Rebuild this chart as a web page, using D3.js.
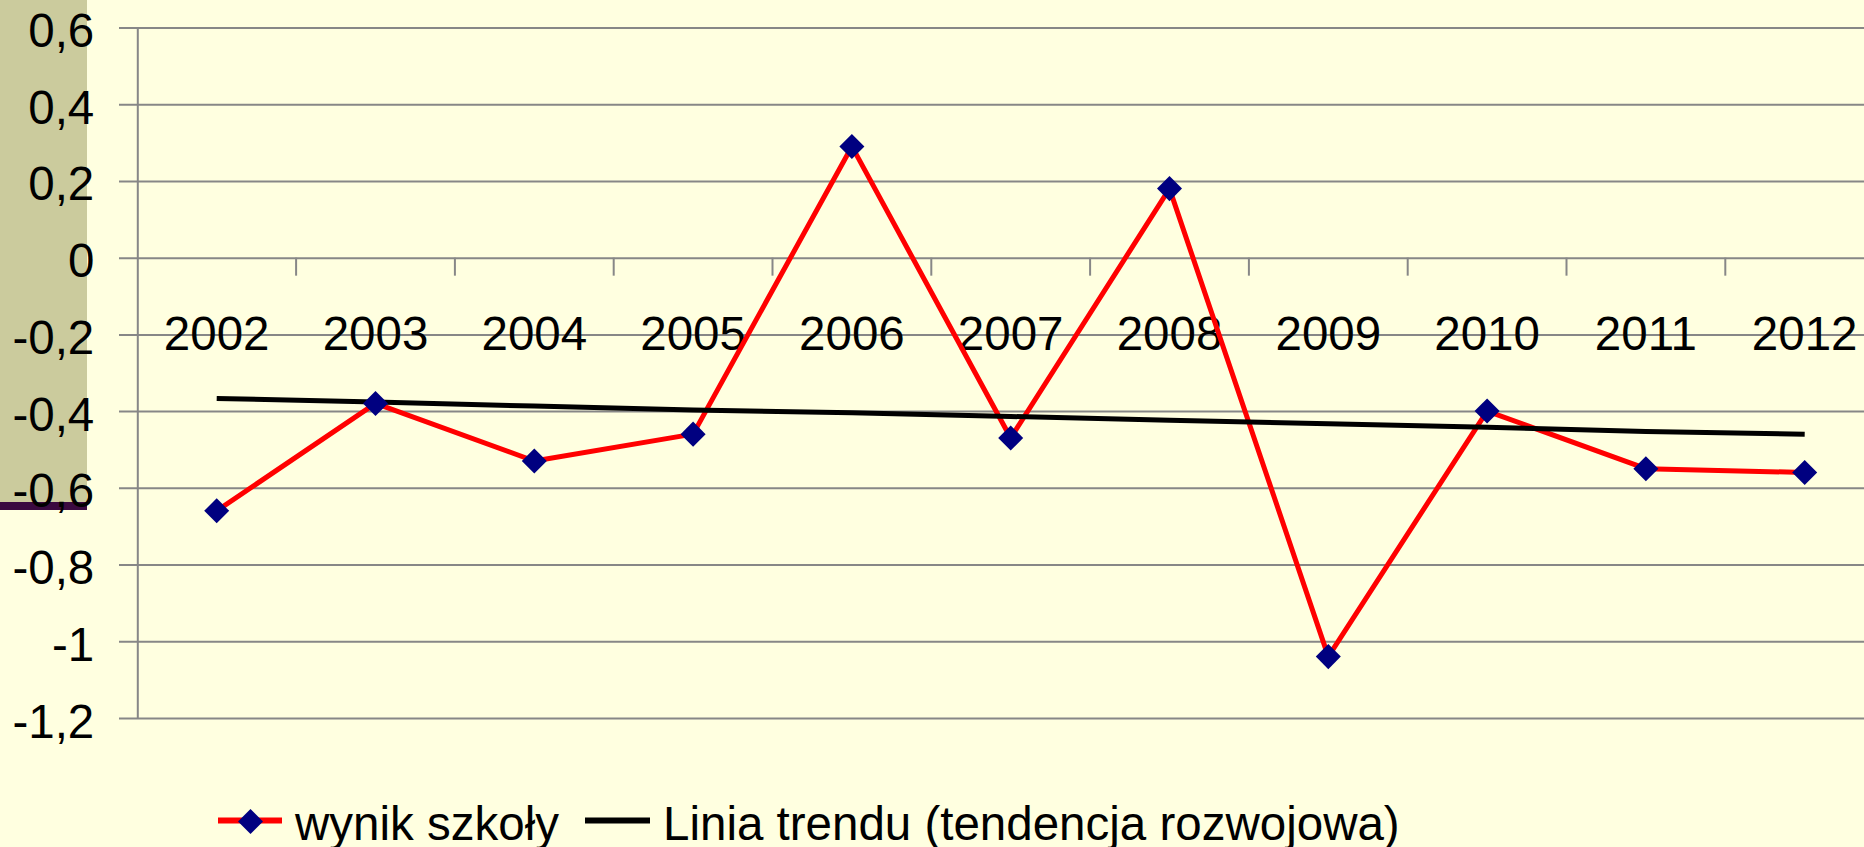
<!DOCTYPE html>
<html>
<head>
<meta charset="utf-8">
<script src="https://cdn.jsdelivr.net/npm/d3@7"></script>
<style>
    html, body { margin: 0; padding: 0; background: #ffffe0; overflow: hidden; }
    svg { display: block; font-family: 'Liberation Sans', Arial, sans-serif; }
</style>
</head>
<body>
<svg width="1864" height="847"></svg>
<script>
// data
var years = ['2002', '2003', '2004', '2005', '2006', '2007', '2008', '2009', '2010', '2011', '2012']
var wynik = [-0.66, -0.38, -0.53, -0.46, 0.29, -0.47, 0.18, -1.04, -0.40, -0.55, -0.56]
var trend = [-0.367, -0.376, -0.387, -0.397, -0.404, -0.414, -0.424, -0.433, -0.442, -0.453, -0.46]
var yTicks = [-1.2, -1, -0.8, -0.6, -0.4, -0.2, 0, 0.2, 0.4, 0.6]
var legendNames = ['wynik szkoły', 'Linia trendu (tendencja rozwojowa)']

var svg = d3.select('svg'),
    width = +svg.attr('width'),
    height = +svg.attr('height')

var fontSize = 47.5

var plotLeft = 137.3,
    plotRight = 137.3 + 11 * 158.8,   // plot runs past the right edge, like the original
    plotTop = 27.5,
    plotBottom = 718

svg.append('rect')
    .attr('width', width)
    .attr('height', height)
    .attr('fill', '#ffffe0')

// olive strip on the left with the dark bar under it
svg.append('rect')
    .attr('x', 0).attr('y', 0)
    .attr('width', 87).attr('height', 502)
    .attr('fill', '#cbcb9d')
svg.append('rect')
    .attr('x', 0).attr('y', 502)
    .attr('width', 87).attr('height', 8)
    .attr('fill', '#3a0a40')

var x = d3.scaleBand().domain(years).range([plotLeft, plotRight])
var y = d3.scaleLinear().domain([-1.2, 0.6]).range([plotBottom, plotTop])

// gridlines
svg.append('g')
    .attr('transform', 'translate(119,0)')
    .call(d3.axisLeft(y).tickValues(yTicks).tickSize(-(plotRight - 119)).tickFormat(''))
    .call(g => g.select('.domain').remove())
    .selectAll('line')
    .attr('stroke', '#878787')
    .attr('stroke-width', 2)

// y labels
var yAxis = svg.append('g')
    .attr('transform', 'translate(' + plotLeft + ',0)')
    .call(d3.axisLeft(y).tickValues(yTicks).tickSize(0).tickPadding(43)
        .tickFormat(d => String(d).replace('.', ',')))
yAxis.select('.domain')
    .attr('stroke', '#878787')
    .attr('stroke-width', 2)
yAxis.selectAll('text')
    .attr('dy', '0.4em')
    .attr('font-size', fontSize)
    .attr('font-family', null)
    .attr('fill', '#000')

// x axis crosses at 0
var xAxis = svg.append('g')
    .attr('transform', 'translate(0,' + y(0) + ')')
    .call(d3.axisBottom(x).tickSize(0).tickPadding(58.5))
xAxis.select('.domain').remove()
xAxis.selectAll('text')
    .attr('font-size', fontSize)
    .attr('font-family', null)
    .attr('fill', '#000')

svg.append('g')
    .selectAll('line')
    .data(years.slice(1))
    .enter().append('line')
    .attr('x1', d => x(d)).attr('x2', d => x(d))
    .attr('y1', y(0)).attr('y2', y(0) + 18)
    .attr('stroke', '#878787')
    .attr('stroke-width', 2)

var cx = (d, i) => x(years[i]) + x.bandwidth() / 2

var line = d3.line()
    .x(cx)
    .y(d => y(d))

svg.append('path')
    .datum(wynik)
    .attr('d', line)
    .attr('fill', 'none')
    .attr('stroke', '#ff0000')
    .attr('stroke-width', 5)
    .attr('stroke-linejoin', 'round')

svg.append('path')
    .datum(trend)
    .attr('d', line)
    .attr('fill', 'none')
    .attr('stroke', '#000')
    .attr('stroke-width', 5)

var diamond = d3.symbol().type(d3.symbolSquare).size(313)

svg.append('g')
    .selectAll('path')
    .data(wynik)
    .enter().append('path')
    .attr('d', diamond)
    .attr('transform', (d, i) => 'translate(' + cx(d, i) + ',' + y(d) + ') rotate(45)')
    .attr('fill', '#000080')

// legend
var legend = svg.append('g')
legend.append('line')
    .attr('x1', 218).attr('x2', 282)
    .attr('y1', 820.5).attr('y2', 820.5)
    .attr('stroke', '#ff0000')
    .attr('stroke-width', 6)
legend.append('path')
    .attr('d', diamond)
    .attr('transform', 'translate(250.5,821.5) rotate(45)')
    .attr('fill', '#000080')
legend.append('text')
    .attr('x', 295).attr('y', 840)
    .attr('font-size', fontSize)
    .text(legendNames[0])
legend.append('line')
    .attr('x1', 585).attr('x2', 650)
    .attr('y1', 820.5).attr('y2', 820.5)
    .attr('stroke', '#000')
    .attr('stroke-width', 6)
legend.append('text')
    .attr('x', 663).attr('y', 840)
    .attr('font-size', fontSize)
    .text(legendNames[1])
</script>
</body>
</html>
